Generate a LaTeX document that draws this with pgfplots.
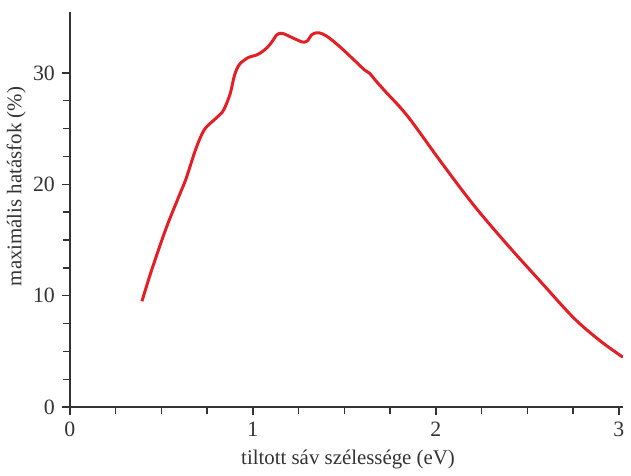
\documentclass[border=0pt]{standalone}
\usepackage{pgfplots}
\pgfplotsset{compat=1.18}
\usepackage{fontspec}
\setmainfont{Liberation Serif}
\definecolor{curvered}{HTML}{E31E24}
\definecolor{axgray}{HTML}{333333}
\begin{document}
\begin{tikzpicture}
\begin{axis}[
  scale only axis, width=278.5pt, height=199pt,
  xmin=0, xmax=3.022, ymin=0, ymax=35.47,
  axis x line*=bottom, axis y line*=left,
  axis line style={axgray, line width=0.8pt},
  xtick={0,1,2,3}, ytick={0,10,20,30},
  minor x tick num=3, minor y tick num=3,
  tick align=outside,
  major tick length=4pt, minor tick length=3.5pt,
  every tick/.style={axgray, line width=0.7pt},
  tick label style={font=\fontsize{11}{12}\selectfont, text=axgray},
  label style={font=\fontsize{10.5}{12}\selectfont, text=axgray},
  /pgf/number format/assume math mode=true,
  xlabel={tiltott sáv szélessége (eV)},
  ylabel={maximális hatásfok (\%)},
  xlabel style={at={(axis description cs:0.503,-0.132)}, anchor=center},
  ylabel style={at={(axis description cs:-0.097,0.558)}, anchor=center},
]
\addplot[curvered, line width=1.5pt, smooth, tension=0.55] coordinates {
(0.394,9.5) (0.445,12.2) (0.526,16.05) (0.598,19.0) (0.635,20.5) (0.689,23.2)
(0.735,24.9) (0.79,25.8) (0.834,26.5)
(0.86,27.4) (0.879,28.3) (0.90,29.8) (0.924,30.7) (0.95,31.1) (0.978,31.4)
(1.02,31.6) (1.051,31.9) (1.08,32.3) (1.105,32.8) (1.13,33.4) (1.145,33.55)
(1.17,33.5) (1.21,33.2) (1.25,32.9) (1.277,32.75) (1.30,32.9) (1.32,33.4)
(1.349,33.6) (1.38,33.5) (1.42,33.1) (1.485,32.2) (1.55,31.2) (1.611,30.25)
(1.639,29.95) (1.666,29.4) (1.72,28.4) (1.846,26.1) (2.028,22.0) (2.208,18.1)
(2.389,14.6) (2.570,11.3) (2.751,8.04) (2.896,5.97) (3.022,4.48)
};
\end{axis}
\path (current axis.north west) ++(0,6pt);
\end{tikzpicture}
\end{document}
